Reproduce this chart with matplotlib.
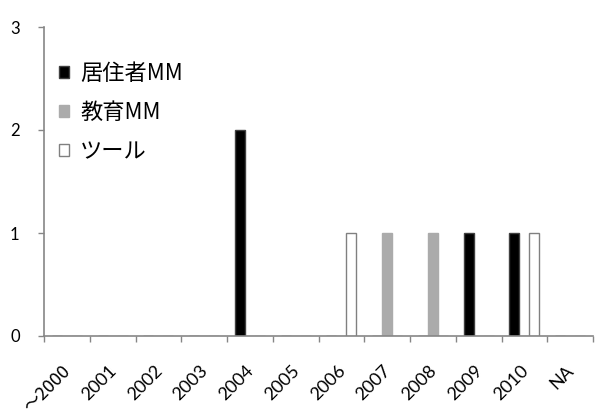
import numpy as np
import matplotlib.pyplot as plt
from matplotlib.transforms import ScaledTranslation, blended_transform_factory

plt.rcParams['font.family'] = ['Lato', 'Noto Sans CJK JP', 'DejaVu Sans']

years = ['～2000', '2001', '2002', '2003', '2004', '2005',
         '2006', '2007', '2008', '2009', '2010', 'NA']
resident_mm = [0, 0, 0, 0, 2, 0, 0, 0, 0, 1, 1, 0]
education_mm = [0, 0, 0, 0, 0, 0, 0, 1, 1, 0, 0, 0]
tools = [0, 0, 0, 0, 0, 0, 1, 0, 0, 0, 1, 0]

series = [
    ('居住者MM', resident_mm, '#000000', '#404040'),
    ('教育MM', education_mm, '#ababab', '#ababab'),
    ('ツール', tools, '#ffffff', '#808080'),
]

axis_grey = '#868686'

fig = plt.figure(figsize=(5.96, 4.12), dpi=100)
ax = fig.add_axes([44 / 596, 76 / 412, 549 / 596, 309 / 412])

x = np.arange(len(years))
w = 0.22
for i, (name, vals, fc, ec) in enumerate(series):
    vals = np.array(vals, dtype=float)
    ax.bar(x + (i - 1) * w, vals, width=w, color=fc, edgecolor=ec,
           linewidth=1.0, label=name)

ax.set_xlim(-0.5, len(years) - 0.5)
ax.set_ylim(0, 3)

# tick marks sit on the category boundaries
ax.set_xticks(np.arange(len(years) + 1) - 0.5)
ax.set_xticklabels([])
ax.tick_params(axis='x', direction='out', length=4.5,
               color=axis_grey, width=1)

# slanted category labels, top-right corner under each category centre
lab_tr = blended_transform_factory(ax.transData, ax.transAxes) + \
    ScaledTranslation(5 / 72, -19 / 72, fig.dpi_scale_trans)
for xi, name in zip(x, years):
    fam = ['Noto Sans CJK JP'] if name.startswith('～') else None
    ax.text(xi, 0, name, transform=lab_tr, rotation=45, ha='right',
            va='top', fontsize=13, family=fam, clip_on=False)

ax.set_yticks([0, 1, 2, 3])
ax.tick_params(axis='y', direction='out', length=4.5, color=axis_grey,
               width=1, pad=13, labelsize=12)

for side in ('top', 'right'):
    ax.spines[side].set_visible(False)
for side in ('left', 'bottom'):
    ax.spines[side].set_color(axis_grey)
    ax.spines[side].set_linewidth(1.2)

ax.legend(loc='upper left', bbox_to_anchor=(59 / 596, 1 - 62 / 412),
          bbox_transform=fig.transFigure, frameon=False, borderpad=0,
          borderaxespad=0, prop={'family': ['Noto Sans CJK JP'], 'size': 16},
          handlelength=0.45, handleheight=0.45,
          handletextpad=0.5, labelspacing=0.72)

fig.savefig('out.png', dpi=100)
